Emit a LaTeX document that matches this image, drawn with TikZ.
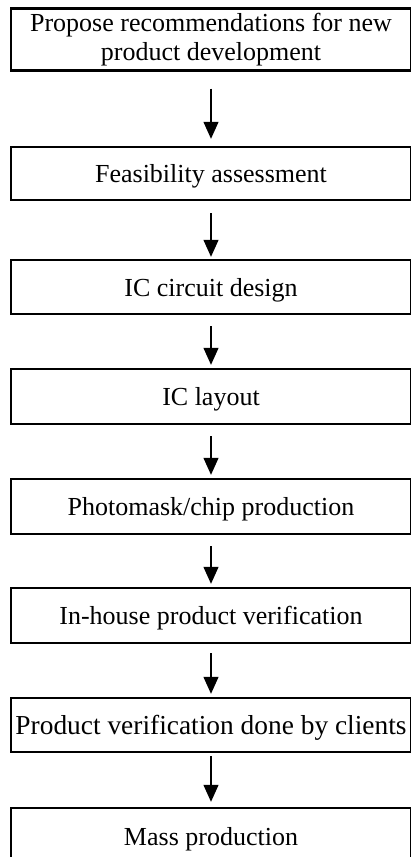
\documentclass[tikz,border=0pt]{standalone}
\usepackage{fontspec}
\setmainfont{Liberation Serif}
\usetikzlibrary{arrows.meta}

\tikzset{
  stagebox/.style={draw, line width=2.4pt, rectangle, minimum width=400pt,
    align=center, inner sep=0pt,
    font=\fontsize{26pt}{29pt}\selectfont},
  oneline/.style={text height=22pt, text depth=4pt},
  flowarrow/.style={line width=1.3pt, -{Triangle[width=15pt,length=17pt]}}
}

\begin{document}
\begin{tikzpicture}[x=1pt,y=-1pt]
  \useasboundingbox (0,0) rectangle (411,857);

  % process stages, top to bottom
  \node[stagebox, minimum height=62pt] (b1) at (211,39.5)
    {Propose recommendations for new\\product development};
  \node[stagebox, oneline, minimum height=53pt] (b2) at (211,173.5) {Feasibility assessment};
  \node[stagebox, oneline, minimum height=54pt] (b3) at (211,287) {IC circuit design};
  \node[stagebox, oneline, minimum height=55pt] (b4) at (211,396.5) {IC layout};
  \node[stagebox, oneline, minimum height=55pt] (b5) at (211,506.5) {Photomask/chip production};
  \node[stagebox, oneline, minimum height=55pt] (b6) at (211,615.5) {In-house product verification};
  \node[stagebox, oneline, minimum height=54pt, font=\fontsize{27.4pt}{30pt}\selectfont]
    (b7) at (211,725) {Product verification done by clients};
  \node[stagebox, oneline, minimum height=56pt] (b8) at (211,836) {Mass production};

  % connectors between consecutive stages
  \draw[flowarrow, shorten <=17pt, shorten >=7pt] (b1.south) -- (b2.north);
  \draw[flowarrow, shorten <=12pt, shorten >=2pt] (b2.south) -- (b3.north);
  \draw[flowarrow, shorten <=11pt, shorten >=3pt] (b3.south) -- (b4.north);
  \draw[flowarrow, shorten <=11pt, shorten >=3pt] (b4.south) -- (b5.north);
  \draw[flowarrow, shorten <=11pt, shorten >=3pt] (b5.south) -- (b6.north);
  \draw[flowarrow, shorten <=9pt, shorten >=3pt] (b6.south) -- (b7.north);
  \draw[flowarrow, shorten <=3pt, shorten >=5pt] (b7.south) -- (b8.north);
\end{tikzpicture}
\end{document}
